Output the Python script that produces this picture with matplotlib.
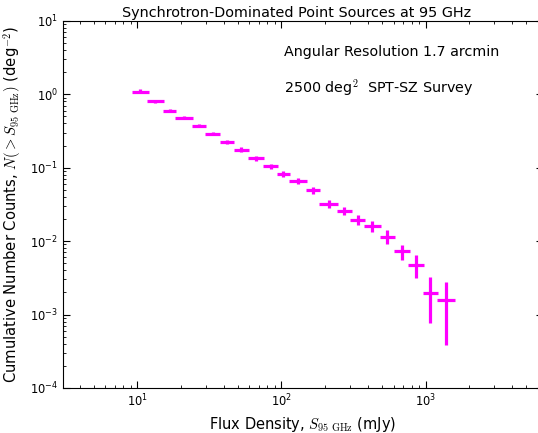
import matplotlib
matplotlib.use("Agg")
import matplotlib.pyplot as plt
import numpy as np

plt.rcParams['mathtext.fontset'] = 'cm'
plt.rcParams['font.family'] = 'DejaVu Sans'

# flux bins (mJy): centre, lower edge, upper edge
flux = [10.46, 13.36, 16.76, 21.03, 26.65, 33.5, 41.98, 52.66, 67.05, 84.3, 102.9,
        130.4, 165.8, 212.0, 272.0, 337.0, 425.6, 541.0, 681.0, 856.0, 1077.0, 1384.0]
flux_lo = [9.23, 11.73, 15.06, 18.24, 23.9, 29.5, 37.5, 46.5, 58.6, 74.5, 93.0,
           112.5, 147.0, 183.0, 241.0, 301.0, 373.0, 486.0, 603.0, 757.0, 953.0, 1204.0]
flux_hi = [11.98, 15.2, 18.66, 24.2, 29.9, 37.7, 47.2, 59.5, 75.7, 95.2, 114.0,
           150.0, 185.0, 245.0, 307.0, 379.0, 487.0, 612.0, 774.0, 973.0, 1223.0, 1598.0]

# cumulative counts N(>S) in deg^-2 with lower / upper error values
counts = [1.088, 0.803, 0.600, 0.477, 0.373, 0.290, 0.225, 0.176, 0.134, 0.1045, 0.0813,
          0.0649, 0.0494, 0.0323, 0.0260, 0.0196, 0.0161, 0.0115, 0.00729, 0.00479, 0.00199, 0.0016]
counts_lo = [1.028, 0.765, 0.572, 0.455, 0.356, 0.277, 0.211, 0.163, 0.123, 0.0965, 0.0742,
             0.0591, 0.0443, 0.0280, 0.0227, 0.0166, 0.0132, 0.00916, 0.00554, 0.00316, 0.000778, 0.000379]
counts_hi = [1.166, 0.843, 0.629, 0.500, 0.391, 0.304, 0.239, 0.190, 0.146, 0.113, 0.0891,
             0.0713, 0.0541, 0.0364, 0.0295, 0.0227, 0.0190, 0.0142, 0.00887, 0.00643, 0.00322, 0.00281]

x = np.array(flux)
y = np.array(counts)
xerr = [x - np.array(flux_lo), np.array(flux_hi) - x]
yerr = [y - np.array(counts_lo), np.array(counts_hi) - y]

fig = plt.figure(figsize=(5.38, 4.33), dpi=100)
# right edge sits just past the figure, like the cropped original
ax = fig.add_axes([0.117, 0.104, 0.892, 0.848])

ax.errorbar(x, y, xerr=xerr, yerr=yerr, fmt='none', ecolor='#ff00ff',
            elinewidth=2.3, capsize=0)

ax.set_xscale('log')
ax.set_yscale('log')
ax.set_xlim(3.05, 6500)
ax.set_ylim(1e-4, 10)

ax.tick_params(which='both', direction='in', top=True, right=True, labelsize=8.3)
ax.tick_params(which='major', length=5)
ax.tick_params(which='minor', length=2.5)

ax.set_title('Synchrotron-Dominated Point Sources at 95 GHz', fontsize=10.4, pad=3, x=0.486)
ax.set_xlabel(r'Flux Density, $S_{95\ \mathrm{GHz}}$ (mJy)', fontsize=10.5, labelpad=4)
ax.set_ylabel(r'Cumulative Number Counts, $N(>S_{95\ \mathrm{GHz}})$ (deg$^{-2}$)',
              fontsize=10.6, labelpad=5)

ax.text(0.461, 0.915, 'Angular Resolution 1.7 arcmin', transform=ax.transAxes,
        fontsize=10.3, va='center', ha='left')
ax.text(0.461, 0.817, r'2500 deg$^2$  SPT-SZ Survey', transform=ax.transAxes,
        fontsize=10.3, va='center', ha='left')

fig.savefig('out.png', dpi=100)
